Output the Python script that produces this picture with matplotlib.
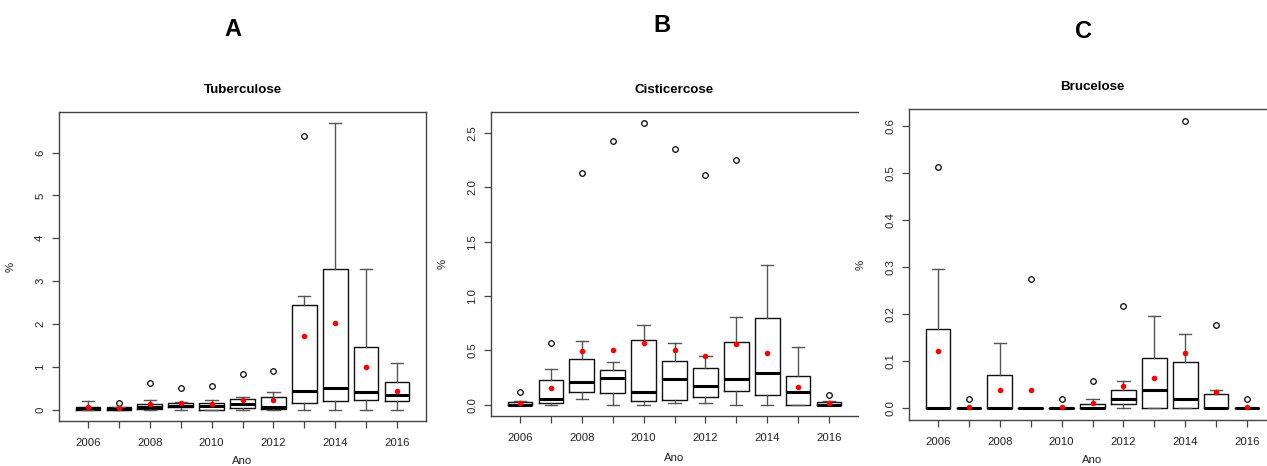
import matplotlib
matplotlib.use("Agg")
import matplotlib.pyplot as plt

plt.rcParams['font.family'] = ['Liberation Sans', 'DejaVu Sans']

years = list(range(2006, 2017))

# Tuberculose (A)
tb_whislo = [0, 0, 0, 0, 0, 0, 0, 0, 0, 0, 0]
tb_q1 = [0.0, 0.0, 0.02, 0.05, 0.0, 0.03, 0.015, 0.16, 0.20, 0.22, 0.19]
tb_med = [0.04, 0.015, 0.05, 0.09, 0.08, 0.14, 0.05, 0.44, 0.50, 0.40, 0.35]
tb_q3 = [0.07, 0.055, 0.14, 0.15, 0.16, 0.25, 0.29, 2.44, 3.29, 1.46, 0.64]
tb_whishi = [0.19, 0.065, 0.22, 0.17, 0.22, 0.29, 0.41, 2.65, 6.68, 3.29, 1.09]
tb_fliers = [[], [0.16], [0.62], [0.51], [0.55], [0.84], [0.89], [6.38], [], [], []]
tb_mean = [0.05, 0.04, 0.14, 0.15, 0.14, 0.23, 0.23, 1.71, 2.02, 1.00, 0.44]

# Cisticercose (B)
cc_whislo = [0, 0, 0.052, 0, 0, 0.015, 0.015, 0, 0, 0, 0]
cc_q1 = [0, 0.015, 0.113, 0.104, 0.037, 0.046, 0.074, 0.126, 0.086, 0, 0]
cc_med = [0, 0.052, 0.21, 0.25, 0.113, 0.233, 0.175, 0.233, 0.291, 0.113, 0]
cc_q3 = [0.025, 0.23, 0.42, 0.32, 0.60, 0.40, 0.34, 0.576, 0.797, 0.26, 0.025]
cc_whishi = [0.03, 0.33, 0.59, 0.39, 0.73, 0.57, 0.447, 0.806, 1.287, 0.533, 0.03]
cc_fliers = [[0.113], [0.57], [2.135], [2.43], [2.59], [2.35], [2.11], [2.255], [], [], [0.092]]
cc_mean = [0.02, 0.156, 0.496, 0.505, 0.567, 0.50, 0.447, 0.555, 0.475, 0.165, 0.018]

# Brucelose (C)
br_whislo = [0, 0, 0, 0, 0, 0, 0, 0, 0, 0, 0]
br_q1 = [0, 0, 0, 0, 0, 0, 0.01, 0, 0, 0, 0]
br_med = [0, 0, 0, 0, 0, 0, 0.02, 0.039, 0.02, 0, 0]
br_q3 = [0.168, 0, 0.07, 0, 0, 0.01, 0.039, 0.108, 0.099, 0.03, 0]
br_whishi = [0.296, 0, 0.139, 0, 0, 0.02, 0.059, 0.197, 0.158, 0.039, 0]
br_fliers = [[0.513], [0.02], [], [0.275], [0.02], [0.059], [0.217], [], [0.611], [0.177], [0.02]]
br_mean = [0.121, 0.003, 0.04, 0.04, 0.003, 0.012, 0.048, 0.065, 0.118, 0.034, 0.003]

fig = plt.figure(figsize=(12.67, 4.66), dpi=100)
W, H = 1267, 466


def make_axes(left, right, top, bottom):
    return fig.add_axes([left / W, (H - bottom) / H, (right - left) / W, (bottom - top) / H])


def draw_panel(ax, title, whislo, q1, med, q3, whishi, fliers, mean, yticks, fmt, xlab_y, right_spine=True):
    stats = []
    for i in range(len(years)):
        stats.append(dict(whislo=whislo[i], q1=q1[i], med=med[i], q3=q3[i],
                          whishi=whishi[i], fliers=fliers[i]))
    pos = list(range(1, len(years) + 1))
    ax.bxp(stats, positions=pos, widths=0.8, showfliers=True,
           boxprops=dict(color='#111111', linewidth=1.0),
           whiskerprops=dict(color='#555555', linewidth=1.0),
           capprops=dict(color='#555555', linewidth=1.0),
           medianprops=dict(color='black', linewidth=2.2),
           flierprops=dict(marker='o', markersize=4, markerfacecolor='none',
                           markeredgecolor='black', markeredgewidth=0.9))
    ax.plot(pos, mean, linestyle='none', marker='o', markersize=3.0,
            color='red', zorder=5)

    allv = whislo + whishi + [v for f in fliers for v in f]
    lo, hi = min(allv), max(allv)
    pad = (hi - lo) * 0.04
    ax.set_ylim(lo - pad, hi + pad)
    ax.set_xlim(0.5 - 0.44, len(years) + 0.5 + 0.44)

    ax.set_xticks(pos)
    ax.set_xticklabels([str(y) if (y % 2 == 0) else '' for y in years])
    ax.set_yticks(yticks)
    ax.set_yticklabels([fmt.format(v) for v in yticks], rotation=90, va='center')
    ax.tick_params(axis='both', direction='out', length=5, width=0.9,
                   color='#444444', labelsize=8.2, labelcolor='#222222')
    ax.tick_params(axis='x', pad=7)
    ax.tick_params(axis='y', pad=5)

    for s in ax.spines.values():
        s.set_color('#444444')
        s.set_linewidth(1.0)
    if not right_spine:
        ax.spines['right'].set_visible(False)

    ax.set_title(title, fontsize=9.6, fontweight='bold', pad=13.5)
    ax.set_ylabel('%', fontsize=8.2, color='#222222')
    ax.yaxis.set_label_coords(-0.118, 0.5)
    ax.set_xlabel('Ano', fontsize=8.2, color='#222222')
    ax.xaxis.set_label_coords(0.5, xlab_y)


axA = make_axes(59, 426, 112, 421)
draw_panel(axA, 'Tuberculose', tb_whislo, tb_q1, tb_med, tb_q3, tb_whishi, tb_fliers, tb_mean,
           [0, 1, 2, 3, 4, 5, 6], '{:g}', -0.113)

axB = make_axes(491, 858, 112, 416)
draw_panel(axB, 'Cisticercose', cc_whislo, cc_q1, cc_med, cc_q3, cc_whishi, cc_fliers, cc_mean,
           [0, 0.5, 1.0, 1.5, 2.0, 2.5], '{:.1f}', -0.122, right_spine=False)

axC = make_axes(909, 1276, 109, 420)
draw_panel(axC, 'Brucelose', br_whislo, br_q1, br_med, br_q3, br_whishi, br_fliers, br_mean,
           [0, 0.1, 0.2, 0.3, 0.4, 0.5, 0.6], '{:.1f}', -0.113, right_spine=False)

# panel letters
fig.text(233 / W, 1 - 29 / H, 'A', fontsize=17, fontweight='bold', ha='center', va='center')
fig.text(662 / W, 1 - 26 / H, 'B', fontsize=17, fontweight='bold', ha='center', va='center')
fig.text(1083 / W, 1 - 31 / H, 'C', fontsize=17, fontweight='bold', ha='center', va='center')

fig.savefig('out.png', dpi=100)
